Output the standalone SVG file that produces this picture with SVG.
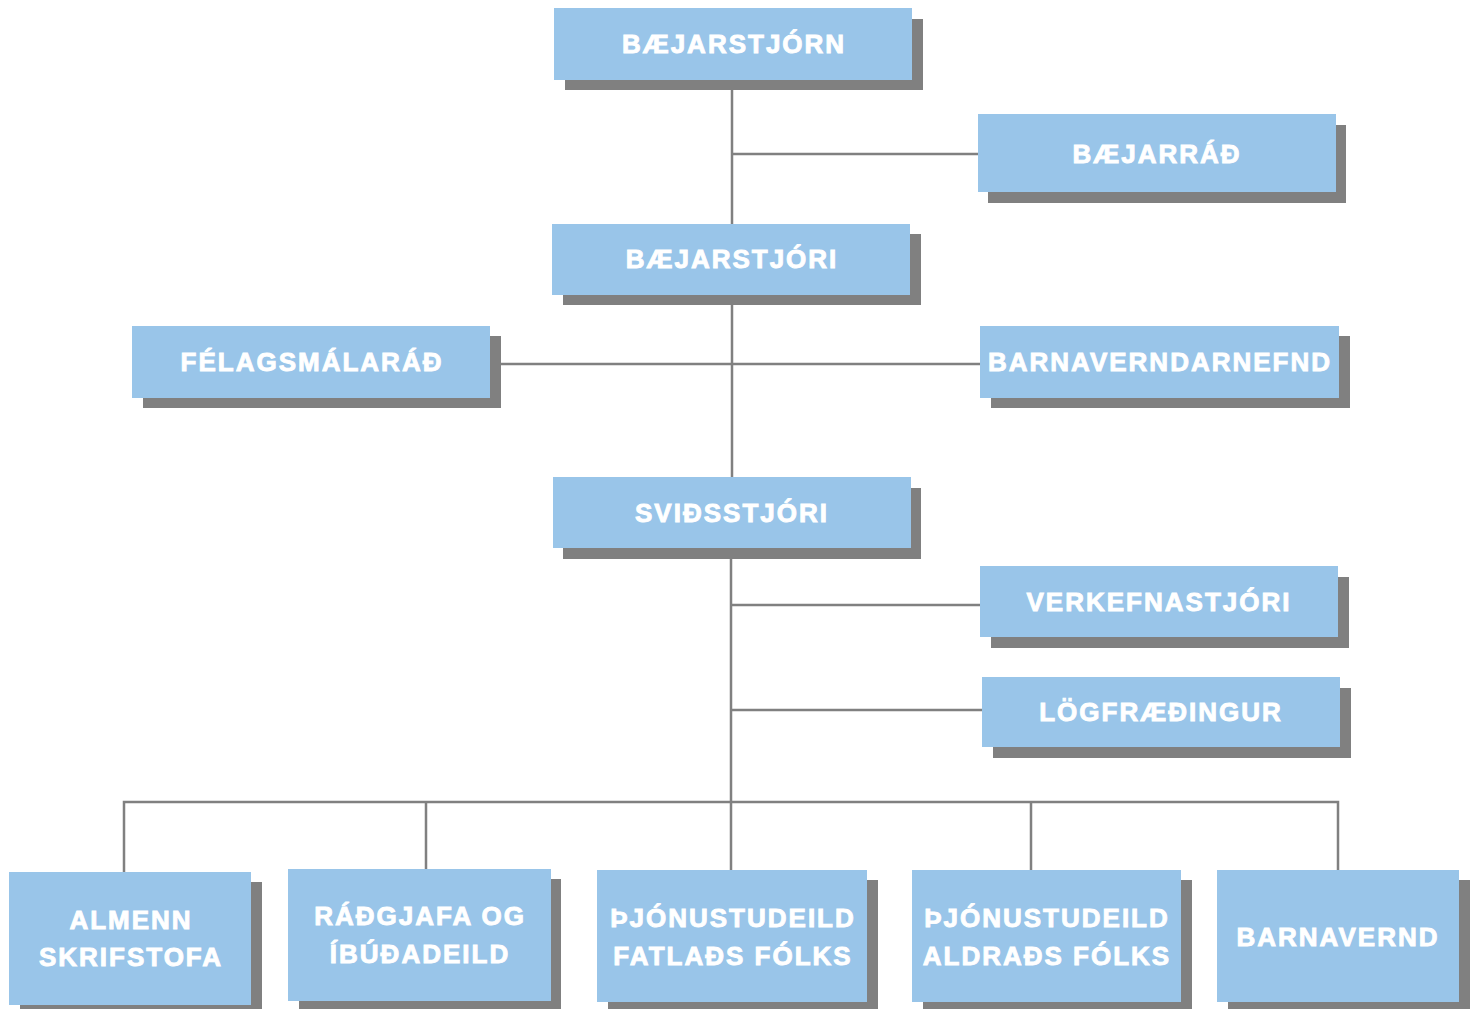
<svg xmlns="http://www.w3.org/2000/svg" width="1477" height="1009" viewBox="0 0 1477 1009">
<style>
.bg{fill:#ffffff}
.sh{fill:#808080}
.bx{fill:#99c5e9}
.t{fill:#ffffff;stroke:#ffffff;stroke-width:0.9;font-family:"Liberation Sans",Arial,sans-serif;font-weight:bold;font-size:26px;letter-spacing:2px;text-anchor:middle}
.ln{stroke:#808080;stroke-width:2.5;fill:none}
</style>
<rect class="bg" x="0" y="0" width="1477" height="1009"/>
<g id="connectors">
<path class="ln" d="M732 80V224M732 295V477M731 548V870"/>
<path class="ln" d="M732 154H978"/>
<path class="ln" d="M490 364H980"/>
<path class="ln" d="M732 605H980"/>
<path class="ln" d="M732 710H982"/>
<path class="ln" d="M124 872V802H1338V870"/>
<path class="ln" d="M426 802V869M1031 802V870"/>
</g>
<g id="n-baejarstjorn"><rect class="sh" x="565" y="19" width="358" height="71"/><rect class="bx" x="554" y="8" width="358" height="72"/><text class="t" x="734" y="53">BÆJARSTJÓRN</text></g>
<g id="n-baejarrad"><rect class="sh" x="988" y="125" width="358" height="78"/><rect class="bx" x="978" y="114" width="358" height="78"/><text class="t" x="1157" y="163">BÆJARRÁÐ</text></g>
<g id="n-baejarstjori"><rect class="sh" x="563" y="234" width="358" height="71"/><rect class="bx" x="552" y="224" width="358" height="71"/><text class="t" x="732" y="268">BÆJARSTJÓRI</text></g>
<g id="n-felagsmalarad"><rect class="sh" x="143" y="336" width="358" height="72"/><rect class="bx" x="132" y="326" width="358" height="72"/><text class="t" x="312" y="371">FÉLAGSMÁLARÁÐ</text></g>
<g id="n-barnaverndarnefnd"><rect class="sh" x="991" y="336" width="359" height="72"/><rect class="bx" x="980" y="326" width="359" height="72"/><text class="t" x="1160" y="371">BARNAVERNDARNEFND</text></g>
<g id="n-svidsstjori"><rect class="sh" x="563" y="488" width="358" height="71"/><rect class="bx" x="553" y="477" width="358" height="71"/><text class="t" x="732" y="522">SVIÐSSTJÓRI</text></g>
<g id="n-verkefnastjori"><rect class="sh" x="991" y="577" width="358" height="71"/><rect class="bx" x="980" y="566" width="358" height="71"/><text class="t" x="1159" y="611">VERKEFNASTJÓRI</text></g>
<g id="n-logfraedingur"><rect class="sh" x="993" y="688" width="358" height="70"/><rect class="bx" x="982" y="677" width="358" height="70"/><text class="t" x="1161" y="721">LÖGFRÆÐINGUR</text></g>
<g id="n-almenn"><rect class="sh" x="20" y="882" width="242" height="133"/><rect class="bx" x="9" y="872" width="242" height="133"/><text class="t" x="131" y="929">ALMENN</text><text class="t" x="131" y="966">SKRIFSTOFA</text></g>
<g id="n-radgjafa"><rect class="sh" x="299" y="879" width="262" height="133"/><rect class="bx" x="288" y="869" width="263" height="132"/><text class="t" x="420" y="925">RÁÐGJAFA OG</text><text class="t" x="420" y="963">ÍBÚÐADEILD</text></g>
<g id="n-fatlads"><rect class="sh" x="608" y="880" width="270" height="132"/><rect class="bx" x="597" y="870" width="270" height="132"/><text class="t" x="733" y="927">ÞJÓNUSTUDEILD</text><text class="t" x="733" y="965">FATLAÐS FÓLKS</text></g>
<g id="n-aldrads"><rect class="sh" x="923" y="880" width="269" height="132"/><rect class="bx" x="912" y="870" width="269" height="132"/><text class="t" x="1047" y="927">ÞJÓNUSTUDEILD</text><text class="t" x="1047" y="965">ALDRAÐS FÓLKS</text></g>
<g id="n-barnavernd"><rect class="sh" x="1228" y="880" width="242" height="132"/><rect class="bx" x="1217" y="870" width="242" height="132"/><text class="t" x="1338" y="946">BARNAVERND</text></g>
</svg>
